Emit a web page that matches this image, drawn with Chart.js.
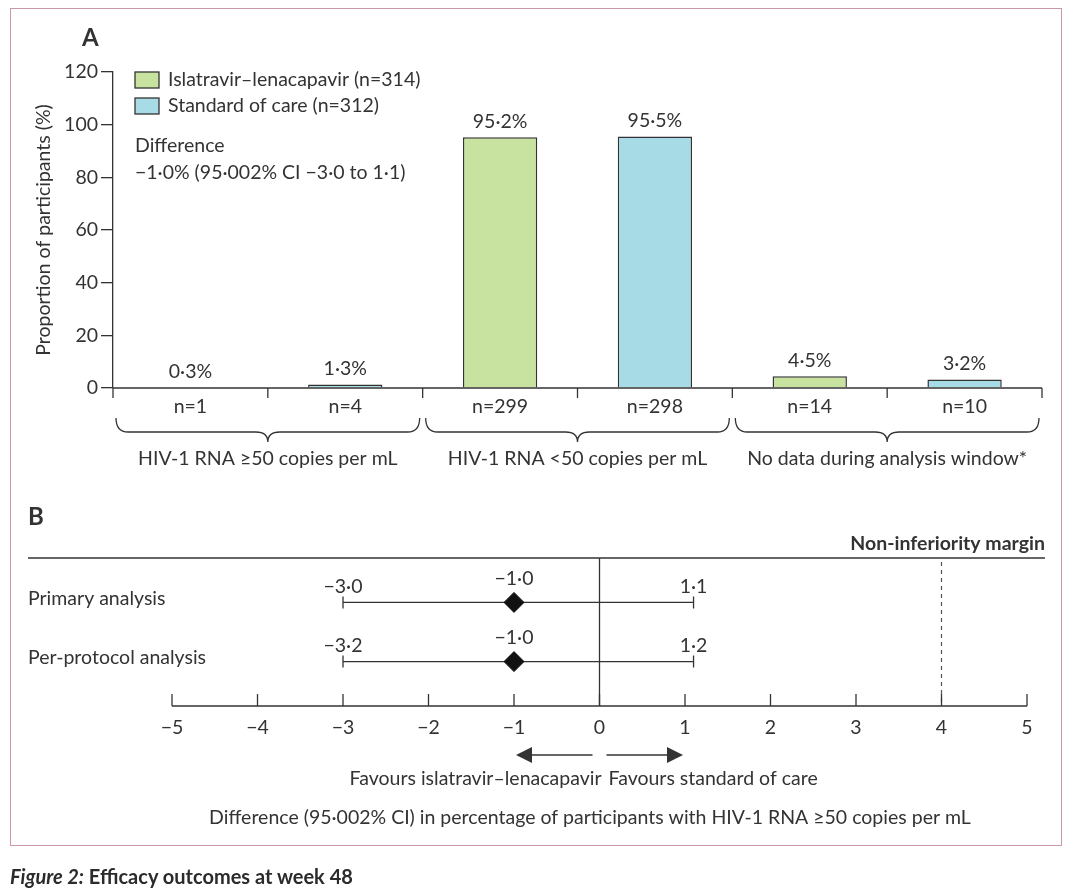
<!DOCTYPE html>
<html><head><meta charset="utf-8">
<script src="https://cdn.jsdelivr.net/npm/chart.js@4.4.1/dist/chart.umd.min.js"></script>
<style>
body{margin:0;background:#fff;width:1080px;height:892px;position:relative;overflow:hidden;font-family:Lato,"Open Sans",sans-serif}
#frame{position:absolute;left:10px;top:8px;width:1052px;height:838px;border:1.5px solid #c99aa6;box-sizing:border-box}
canvas{position:absolute;left:0}
#cA{top:0}#cB{top:480px}
#cap{position:absolute;left:10px;top:864px;font-size:20px;color:#2b2b2b}
#cap b{font-weight:700}
</style></head><body>
<div id="frame"></div>
<canvas id="cA" width="1080" height="480"></canvas>
<canvas id="cB" width="1080" height="412"></canvas>
<div id="cap"><b><i>Figure 2:</i> Efficacy outcomes at week 48</b></div>
<script>
// ---- data ----
const categories = ['n=1','n=4','n=299','n=298','n=14','n=10'];
const islaValues = [0.3,null,95.2,null,4.5,null];
const socValues  = [null,1.3,null,95.5,null,3.2];
const barLabels  = ['0·3%','1·3%','95·2%','95·5%','4·5%','3·2%'];
const groupLabels = ['HIV-1 RNA ≥50 copies per mL','HIV-1 RNA <50 copies per mL','No data during analysis window*'];
const yTicks = [0,20,40,60,80,100,120];

const rows = ['Primary analysis','Per-protocol analysis'];
const pointEst = [-1.0,-1.0];
const ciLow = [-3.0,-3.0];
const ciHigh = [1.1,1.1];
const ciLowText = ['−3·0','−3·2'];
const ciHighText = ['1·1','1·2'];
const xTicks = [-5,-4,-3,-2,-1,0,1,2,3,4,5];
const margin = 4;

const FONT = 'Lato, "Open Sans", sans-serif';
const INK = '#333';
const GREEN = '#c8e3a0', BLUE = '#a7dbe6';
const FS = 19.5;
const f = (s,w) => (w||'normal')+' '+s+'px '+FONT;

// ---- panel A ----
const annoA = {
  id:'annoA',
  afterDatasetsDraw(c){
    const {ctx, scales:{x,y}, chartArea:a} = c;
    ctx.save();
    ctx.fillStyle=INK; ctx.strokeStyle=INK; ctx.lineWidth=1.3;
    ctx.font=f(24,'bold'); ctx.textAlign='left'; ctx.textBaseline='middle';
    ctx.fillText('A',82,38);
    const y0=y.getPixelForValue(0);
    ctx.beginPath(); ctx.moveTo(a.left,y0); ctx.lineTo(a.right,y0); ctx.stroke();
    const half=(x.getPixelForValue(1)-x.getPixelForValue(0))/2;
    for(let i=0;i<=categories.length;i++){
      const px = i<categories.length ? x.getPixelForValue(i)-half : x.getPixelForValue(i-1)+half;
      ctx.beginPath(); ctx.moveTo(px,y0); ctx.lineTo(px,y0+10); ctx.stroke();
    }
    ctx.font=f(FS); ctx.textAlign='center';
    categories.forEach((t,i)=>{
      const px=x.getPixelForValue(i);
      ctx.textBaseline='middle';
      ctx.fillText(t,px,y0+19);
      const v = islaValues[i]!=null?islaValues[i]:socValues[i];
      ctx.textBaseline='bottom';
      ctx.fillText(barLabels[i],px,y.getPixelForValue(v)-6);
    });
    ctx.textBaseline='middle';
    groupLabels.forEach((t,g)=>{
      const l=x.getPixelForValue(2*g)-half+3, r=x.getPixelForValue(2*g+1)+half-3, m=(l+r)/2;
      const top=y0+30, mid=y0+44, tip=y0+54;
      ctx.beginPath();
      ctx.moveTo(l,top); ctx.quadraticCurveTo(l,mid,l+12,mid);
      ctx.lineTo(m-12,mid); ctx.quadraticCurveTo(m,mid,m,tip);
      ctx.quadraticCurveTo(m,mid,m+12,mid);
      ctx.lineTo(r-12,mid); ctx.quadraticCurveTo(r,mid,r,top);
      ctx.stroke();
      ctx.fillText(t,m,y0+71);
    });
    ctx.textAlign='left';
    [[GREEN,'Islatravir–lenacapavir (n=314)',80],[BLUE,'Standard of care (n=312)',106]].forEach(([col,t,py])=>{
      ctx.fillStyle=col; ctx.fillRect(135,py-8,24,16);
      ctx.strokeStyle='#333'; ctx.strokeRect(135,py-8,24,16);
      ctx.fillStyle=INK; ctx.fillText(t,168,py);
    });
    ctx.fillText('Difference',135,146);
    ctx.fillText('−1·0% (95·002% CI −3·0 to 1·1)',135,173);
    ctx.restore();
  }
};
new Chart(document.getElementById('cA'),{
  type:'bar',
  data:{labels:categories,datasets:[
    {label:'Islatravir–lenacapavir (n=314)',data:islaValues,backgroundColor:GREEN,borderColor:'#333',borderWidth:1.5,barPercentage:0.48,categoryPercentage:1,skipNull:true},
    {label:'Standard of care (n=312)',data:socValues,backgroundColor:BLUE,borderColor:'#333',borderWidth:1.5,barPercentage:0.48,categoryPercentage:1,skipNull:true}
  ]},
  options:{responsive:false,animation:false,
    layout:{padding:{top:72,bottom:92,right:38,left:28}},
    plugins:{legend:{display:false},tooltip:{enabled:false}},
    scales:{
      x:{display:false},
      y:{min:0,max:120,afterFit:s=>{s.width=85},
        afterBuildTicks:s=>{s.ticks=yTicks.map(v=>({value:v}))},
        border:{color:INK,width:1.3},
        grid:{drawOnChartArea:false,color:INK,lineWidth:1.3,tickLength:12},
        ticks:{color:INK,font:{family:FONT,size:FS},padding:3},
        title:{display:true,text:'Proportion of participants (%)',color:INK,font:{family:FONT,size:FS},padding:{bottom:0}}
      }
    }
  },
  plugins:[annoA]
});

// ---- panel B ----
const annoB = {
  id:'annoB',
  beforeDatasetsDraw(c){
    const {ctx, scales:{x,y}, chartArea:a} = c;
    ctx.save();
    ctx.fillStyle=INK; ctx.strokeStyle=INK; ctx.lineWidth=1.3;
    ctx.font=f(24,'bold'); ctx.textBaseline='middle'; ctx.textAlign='left';
    ctx.fillText('B',28,37);
    ctx.beginPath(); ctx.moveTo(28,a.top); ctx.lineTo(1045,a.top); ctx.stroke();
    ctx.font=f(FS,'bold'); ctx.textAlign='right'; ctx.textBaseline='bottom';
    ctx.fillText('Non-inferiority margin',1045,a.top-5);
    const x0=x.getPixelForValue(0);
    ctx.beginPath(); ctx.moveTo(x0,a.top); ctx.lineTo(x0,a.bottom); ctx.stroke();
    ctx.setLineDash([4,4]); ctx.lineWidth=1.2; ctx.strokeStyle='#555';
    const xm=x.getPixelForValue(margin);
    ctx.beginPath(); ctx.moveTo(xm,a.top+4); ctx.lineTo(xm,a.bottom); ctx.stroke();
    ctx.setLineDash([]); ctx.strokeStyle=INK; ctx.lineWidth=1.3;
    ctx.beginPath(); ctx.moveTo(x.getPixelForValue(xTicks[0]),a.bottom); ctx.lineTo(x.getPixelForValue(xTicks[xTicks.length-1]),a.bottom); ctx.stroke();
    ctx.font=f(FS); ctx.textAlign='center'; ctx.textBaseline='top';
    xTicks.forEach(v=>{
      const px=x.getPixelForValue(v);
      ctx.beginPath(); ctx.moveTo(px,a.bottom); ctx.lineTo(px,a.bottom-12); ctx.stroke();
      ctx.fillText(v<0?'−'+(-v):String(v),px,a.bottom+12);
    });
    rows.forEach((t,i)=>{
      const py=y.getPixelForValue(i);
      ctx.textAlign='left'; ctx.textBaseline='middle';
      ctx.fillText(t,28,py-4);
      const l=x.getPixelForValue(ciLow[i]), r=x.getPixelForValue(ciHigh[i]);
      ctx.beginPath(); ctx.moveTo(l,py); ctx.lineTo(r,py);
      ctx.moveTo(l,py-6); ctx.lineTo(l,py+6); ctx.moveTo(r,py-6); ctx.lineTo(r,py+6); ctx.stroke();
      ctx.textAlign='center'; ctx.textBaseline='bottom';
      ctx.fillText(ciLowText[i],l,py-6);
      ctx.fillText(ciHighText[i],r,py-6);
      ctx.fillText('−'+(-pointEst[i]).toFixed(1).replace('.','·'),x.getPixelForValue(pointEst[i]),py-14);
    });
    const ay=a.bottom+49;
    const arrow=(from,to)=>{
      ctx.beginPath(); ctx.moveTo(from,ay); ctx.lineTo(to,ay); ctx.stroke();
      const d=to>from?1:-1;
      ctx.beginPath(); ctx.moveTo(to+d*2,ay); ctx.lineTo(to-d*14,ay-8); ctx.lineTo(to-d*14,ay+8); ctx.closePath(); ctx.fill();
    };
    arrow(x0-7,x.getPixelForValue(-1)+4);
    arrow(x0+7,x.getPixelForValue(1)-4);
    ctx.textBaseline='middle';
    ctx.textAlign='right'; ctx.fillText('Favours islatravir–lenacapavir',x0+2,ay+24);
    ctx.textAlign='left'; ctx.fillText('Favours standard of care',x0+9,ay+24);
    ctx.textAlign='center';
    ctx.fillText('Difference (95·002% CI) in percentage of participants with HIV-1 RNA ≥50 copies per mL',590,ay+63);
    ctx.restore();
  }
};
new Chart(document.getElementById('cB'),{
  type:'scatter',
  data:{datasets:[{data:pointEst.map((v,i)=>({x:v,y:i})),pointStyle:'rectRot',pointRadius:10,backgroundColor:'#111',borderColor:'#111'}]},
  options:{responsive:false,animation:false,
    layout:{padding:{top:78,bottom:186,left:172,right:53}},
    plugins:{legend:{display:false},tooltip:{enabled:false}},
    scales:{
      x:{type:'linear',min:-5,max:5,display:false},
      y:{type:'linear',min:-0.75,max:1.75,reverse:true,display:false}
    }
  },
  plugins:[annoB]
});
</script>
</body></html>
